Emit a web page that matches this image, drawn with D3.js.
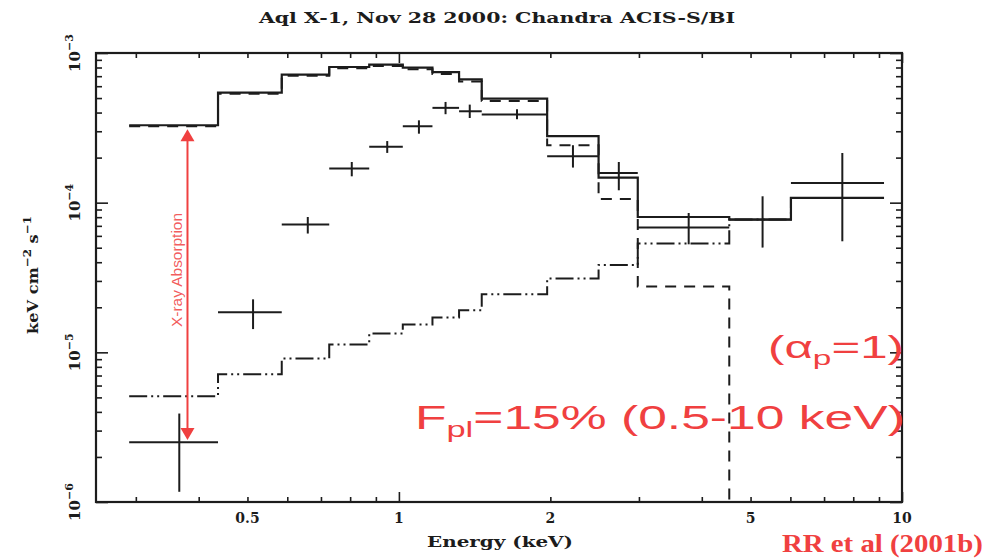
<!DOCTYPE html>
<html>
<head>
<meta charset="utf-8">
<script src="https://cdn.jsdelivr.net/npm/d3@7"></script>
<style>
  body { margin: 0; background: #fff; }
  svg { display: block; }
</style>
</head>
<body>
<svg id="chart" width="985" height="558"></svg>
<script>
// Energy bins of the grouped spectrum (keV)
const binLo = [0.291, 0.437, 0.585, 0.727, 0.873, 1.018, 1.166, 1.317, 1.461, 1.971, 2.494, 2.984, 4.536, 6.015];
const binHi = [0.437, 0.585, 0.727, 0.873, 1.018, 1.166, 1.317, 1.461, 1.971, 2.494, 2.984, 4.536, 6.015, 9.21];

// Unfolded data points (keV cm^-2 s^-1) with 1-sigma bounds
const dataE    = [0.366, 0.513, 0.659, 0.806, 0.948, 1.096, 1.238, 1.383, 1.717, 2.218, 2.736, 3.767, 5.283, 7.61];
const dataFlux = [2.51e-6, 1.85e-5, 7.14e-5, 1.69e-4, 2.36e-4, 3.24e-4, 4.30e-4, 4.08e-4, 3.88e-4, 2.04e-4, 1.58e-4, 6.82e-5, 7.71e-5, 1.354e-4];
const dataHi   = [3.9e-6, 2.26e-5, 8.02e-5, 1.87e-4, 2.58e-4, 3.55e-4, 4.71e-4, 4.52e-4, 4.21e-4, 2.42e-4, 1.87e-4, 8.53e-5, 1.103e-4, 2.148e-4];
const dataLo   = [1.17e-6, 1.43e-5, 6.22e-5, 1.50e-4, 2.15e-4, 2.89e-4, 3.90e-4, 3.68e-4, 3.61e-4, 1.716e-4, 1.21e-4, 5.27e-5, 5.01e-5, 5.52e-5];

// Model: unabsorbed total, H atmosphere (null = below the plot), power law
const modelTotal    = [3.29e-4, 5.44e-4, 7.17e-4, 8.06e-4, 8.37e-4, 7.99e-4, 7.46e-4, 6.67e-4, 4.96e-4, 2.78e-4, 1.47e-4, 8.02e-5, 7.71e-5, 1.075e-4];
const modelAtmos    = [3.24e-4, 5.35e-4, 7.05e-4, 7.90e-4, 8.20e-4, 7.80e-4, 7.25e-4, 6.45e-4, 4.78e-4, 2.42e-4, 1.06e-4, 2.75e-5, null, null];
const modelPowerLaw = [5.09e-6, 7.14e-6, 9.09e-6, 1.127e-5, 1.335e-5, 1.533e-5, 1.708e-5, 1.91e-5, 2.44e-5, 3.11e-5, 3.84e-5, 5.33e-5, 7.71e-5, 1.075e-4];

// Axis ticks
const xTickLabels = [0.5, 1, 2, 5, 10];
const yTickExponents = [-3, -4, -5, -6];

// Absorption arrow: from unabsorbed model to the lowest data point
const arrowE = 0.38;
const arrowTop = 3.1e-4;
const arrowBottom = 2.6e-6;

const svg = d3.select("#chart");
const frame = { left: 96, right: 902, top: 53, bottom: 502 };

const x = d3.scaleLog().domain([0.25, 10]).range([frame.left, frame.right]);
const y = d3.scaleLog().domain([1e-6, 1e-3]).range([frame.bottom, frame.top]);

const ink = "#1c1c1c";
const red = "#f04040";
const serif = "'DejaVu Serif', 'Liberation Serif', serif";
const sans = "'Liberation Sans', Arial, sans-serif";

// stretch a text element horizontally around anchor x so its width hits target
function fitWidth(sel, target, ax) {
  const bb = sel.node().getBBox();
  const s = target / bb.width;
  sel.attr("transform", `translate(${ax},0) scale(${s},1) translate(${-ax},0)`);
}
// stretch a rotated (-90) text so its on-screen height hits target
function fitHeight(sel, target, cx, cy) {
  const bb = sel.node().getBBox();
  const s = target / bb.width;
  sel.attr("transform", `translate(${cx},${cy}) rotate(-90) scale(${s},1)`);
}

svg.append("defs").append("clipPath").attr("id", "plotClip")
  .append("rect")
  .attr("x", frame.left).attr("y", frame.top)
  .attr("width", frame.right - frame.left).attr("height", frame.bottom - frame.top);

// ---- ticks (inward on all four sides) ----
const xMajor = [1, 10];
const xMinor = x.ticks().filter(t => !xMajor.includes(t));
const yMajor = [1e-6, 1e-5, 1e-4, 1e-3];
const yMinor = y.ticks().filter(t => !yMajor.some(m => Math.abs(m - t) / t < 1e-6));

function tickSet(vals, len, axisFn, pos) {
  const g = svg.append("g").attr("transform", pos)
    .call(axisFn.tickValues(vals).tickSize(len).tickFormat(""));
  g.select(".domain").remove();
  g.selectAll("line").attr("stroke", ink).attr("stroke-width", 1.6);
}
tickSet(xMinor, -5, d3.axisBottom(x), `translate(0,${frame.bottom})`);
tickSet(xMajor, -10, d3.axisBottom(x), `translate(0,${frame.bottom})`);
tickSet(xMinor, -5, d3.axisTop(x), `translate(0,${frame.top})`);
tickSet(xMajor, -10, d3.axisTop(x), `translate(0,${frame.top})`);
tickSet(yMinor, -6, d3.axisLeft(y), `translate(${frame.left},0)`);
tickSet(yMajor, -12, d3.axisLeft(y), `translate(${frame.left},0)`);
tickSet(yMinor, -6, d3.axisRight(y), `translate(${frame.right},0)`);
tickSet(yMajor, -12, d3.axisRight(y), `translate(${frame.right},0)`);

svg.append("rect")
  .attr("x", frame.left).attr("y", frame.top)
  .attr("width", frame.right - frame.left).attr("height", frame.bottom - frame.top)
  .attr("fill", "none").attr("stroke", ink).attr("stroke-width", 2.2);

// ---- step curves ----
function stepPoints(vals) {
  const pts = [];
  vals.forEach((v, i) => {
    if (v == null) {
      if (i > 0 && vals[i - 1] != null) pts.push([x(binLo[i]), frame.bottom + 4]);
      return;
    }
    pts.push([x(binLo[i]), y(v)]);
    pts.push([x(binHi[i]), y(v)]);
  });
  return pts;
}
const line = d3.line();
const curves = svg.append("g").attr("clip-path", "url(#plotClip)").attr("fill", "none");

curves.append("path").attr("d", line(stepPoints(modelPowerLaw)))
  .attr("stroke", ink).attr("stroke-width", 2).attr("stroke-dasharray", "18,4,2,4,2,4");
curves.append("path").attr("d", line(stepPoints(modelAtmos)))
  .attr("stroke", ink).attr("stroke-width", 2).attr("stroke-dasharray", "11,8");
curves.append("path").attr("d", line(stepPoints(modelTotal)))
  .attr("stroke", ink).attr("stroke-width", 2.2);

// ---- data crosses ----
const pts = svg.append("g").attr("stroke", ink).attr("stroke-width", 2);
dataE.forEach((e, i) => {
  pts.append("line").attr("x1", x(binLo[i])).attr("x2", x(binHi[i]))
    .attr("y1", y(dataFlux[i])).attr("y2", y(dataFlux[i]));
  pts.append("line").attr("x1", x(e)).attr("x2", x(e))
    .attr("y1", y(dataLo[i])).attr("y2", y(dataHi[i]));
});

// ---- axis labels ----
svg.append("g").selectAll("text").data(xTickLabels).join("text")
  .attr("x", d => x(d)).attr("y", 523)
  .attr("text-anchor", "middle")
  .attr("font-family", serif).attr("font-weight", "bold").attr("font-size", 14)
  .attr("fill", ink)
  .text(d => d);

yTickExponents.forEach(p => {
  const t = svg.append("text")
    .attr("transform", `translate(80,${y(Math.pow(10, p))}) rotate(-90)`)
    .attr("text-anchor", "middle")
    .attr("font-family", serif).attr("font-weight", "bold").attr("font-size", 15)
    .attr("fill", ink);
  t.append("tspan").text("10");
  t.append("tspan").attr("dy", -7).attr("font-size", 11).text("\u2212" + Math.abs(p));
});

const xl = svg.append("text")
  .attr("x", 500).attr("y", 547).attr("text-anchor", "middle")
  .attr("font-family", serif).attr("font-weight", "bold").attr("font-size", 15)
  .attr("fill", ink).text("Energy (keV)");
fitWidth(xl, 146, 500);

const yl = svg.append("text")
  .attr("text-anchor", "middle")
  .attr("font-family", serif).attr("font-weight", "bold").attr("font-size", 15)
  .attr("fill", ink);
yl.append("tspan").text("keV cm");
yl.append("tspan").attr("dy", -7).attr("font-size", 11).text("\u22122");
yl.append("tspan").attr("dy", 7).text(" s");
yl.append("tspan").attr("dy", -7).attr("font-size", 11).text("\u22121");
fitHeight(yl, 118, 38, 275);

const title = svg.append("text")
  .attr("x", 497).attr("y", 23).attr("text-anchor", "middle")
  .attr("font-family", serif).attr("font-weight", "bold").attr("font-size", 15)
  .attr("fill", ink).text("Aql X-1, Nov 28 2000: Chandra ACIS-S/BI");
fitWidth(title, 478, 497);

// ---- absorption arrow ----
const ax = x(arrowE), ay1 = y(arrowTop), ay2 = y(arrowBottom);
const arrow = svg.append("g").attr("fill", red).attr("stroke", red);
arrow.append("line").attr("x1", ax).attr("x2", ax).attr("y1", ay1 + 8).attr("y2", ay2 - 8)
  .attr("stroke-width", 2);
arrow.append("path").attr("stroke", "none")
  .attr("d", `M${ax},${ay1} L${ax - 7},${ay1 + 12} L${ax + 7},${ay1 + 12} Z`);
arrow.append("path").attr("stroke", "none")
  .attr("d", `M${ax},${ay2} L${ax - 7},${ay2 - 12} L${ax + 7},${ay2 - 12} Z`);

const absLabel = svg.append("text")
  .attr("text-anchor", "middle")
  .attr("font-family", sans).attr("font-size", 14)
  .attr("fill", red).attr("fill-opacity", 0.85)
  .text("X-ray Absorption");
fitHeight(absLabel, 114, 182, 270);

// ---- red annotations ----
const alpha = svg.append("text")
  .attr("x", 768).attr("y", 358)
  .attr("font-family", sans).attr("font-size", 31).attr("fill", red);
alpha.append("tspan").text("(\u03b1");
alpha.append("tspan").attr("dy", 7).attr("font-size", 21).text("p");
alpha.append("tspan").attr("dy", -7).text("=1)");
fitWidth(alpha, 136, 768);

const fpl = svg.append("text")
  .attr("x", 415).attr("y", 429)
  .attr("font-family", sans).attr("font-size", 33).attr("fill", red);
fpl.append("tspan").text("F");
fpl.append("tspan").attr("dy", 8).attr("font-size", 22).text("pl");
fpl.append("tspan").attr("dy", -8).text("=15% (0.5-10 keV)");
fitWidth(fpl, 490, 415);

const cite = svg.append("text")
  .attr("x", 782).attr("y", 552)
  .attr("font-family", "'Liberation Serif', 'Times New Roman', serif")
  .attr("font-weight", "bold").attr("font-size", 26).attr("fill", red)
  .text("RR et al (2001b)");
fitWidth(cite, 201, 782);
</script>
</body>
</html>
